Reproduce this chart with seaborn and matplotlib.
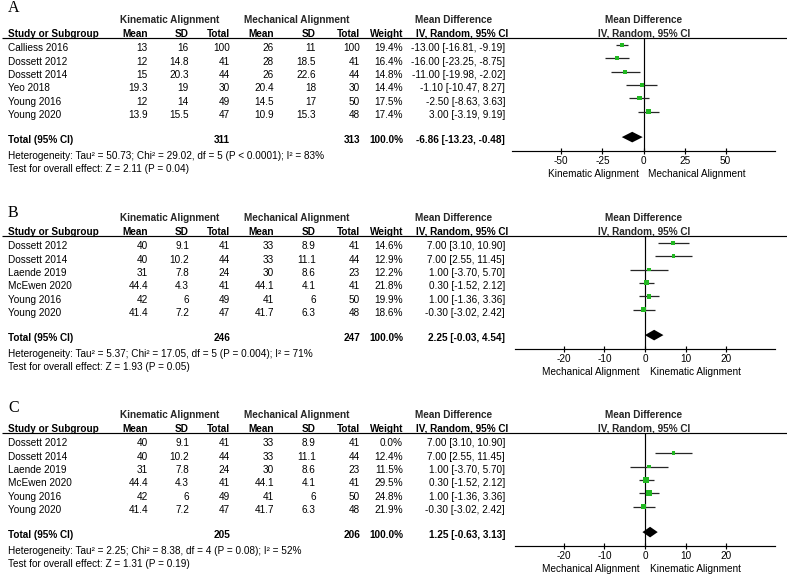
import numpy as np
import pandas as pd
import matplotlib
matplotlib.use("Agg")
import matplotlib.pyplot as plt
import seaborn as sns

# ---------------- data ----------------
# Panel A
studies_a = ["Calliess 2016", "Dossett 2012", "Dossett 2014", "Yeo 2018", "Young 2016", "Young 2020"]
ka_mean_a = [13, 12, 15, 19.3, 12, 13.9]
ka_sd_a = [16, 14.8, 20.3, 19, 14, 15.5]
ka_n_a = [100, 41, 44, 30, 49, 47]
ma_mean_a = [26, 28, 26, 20.4, 14.5, 10.9]
ma_sd_a = [11, 18.5, 22.6, 18, 17, 15.3]
ma_n_a = [100, 41, 44, 30, 50, 48]
weight_a = [19.4, 16.4, 14.8, 14.4, 17.5, 17.4]
md_a = [-13.00, -16.00, -11.00, -1.10, -2.50, 3.00]
lo_a = [-16.81, -23.25, -19.98, -10.47, -8.63, -3.19]
hi_a = [-9.19, -8.75, -2.02, 8.27, 3.63, 9.19]
total_a = [311, 313]
pooled_a = [-6.86, -13.23, -0.48]
het_a = "Heterogeneity: Tau\u00b2 = 50.73; Chi\u00b2 = 29.02, df = 5 (P < 0.0001); I\u00b2 = 83%"
test_a = "Test for overall effect: Z = 2.11 (P = 0.04)"
ticks_a = [-50, -25, 0, 25, 50]
dir_a = ["Kinematic Alignment", "Mechanical Alignment"]

# Panel B
studies_b = ["Dossett 2012", "Dossett 2014", "Laende 2019", "McEwen 2020", "Young 2016", "Young 2020"]
ka_mean_b = [40, 40, 31, 44.4, 42, 41.4]
ka_sd_b = [9.1, 10.2, 7.8, 4.3, 6, 7.2]
ka_n_b = [41, 44, 24, 41, 49, 47]
ma_mean_b = [33, 33, 30, 44.1, 41, 41.7]
ma_sd_b = [8.9, 11.1, 8.6, 4.1, 6, 6.3]
ma_n_b = [41, 44, 23, 41, 50, 48]
weight_b = [14.6, 12.9, 12.2, 21.8, 19.9, 18.6]
md_b = [7.00, 7.00, 1.00, 0.30, 1.00, -0.30]
lo_b = [3.10, 2.55, -3.70, -1.52, -1.36, -3.02]
hi_b = [10.90, 11.45, 5.70, 2.12, 3.36, 2.42]
total_b = [246, 247]
pooled_b = [2.25, -0.03, 4.54]
het_b = "Heterogeneity: Tau\u00b2 = 5.37; Chi\u00b2 = 17.05, df = 5 (P = 0.004); I\u00b2 = 71%"
test_b = "Test for overall effect: Z = 1.93 (P = 0.05)"
ticks_b = [-20, -10, 0, 10, 20]
dir_b = ["Mechanical Alignment", "Kinematic Alignment"]

# Panel C
studies_c = ["Dossett 2012", "Dossett 2014", "Laende 2019", "McEwen 2020", "Young 2016", "Young 2020"]
ka_mean_c = [40, 40, 31, 44.4, 42, 41.4]
ka_sd_c = [9.1, 10.2, 7.8, 4.3, 6, 7.2]
ka_n_c = [41, 44, 24, 41, 49, 47]
ma_mean_c = [33, 33, 30, 44.1, 41, 41.7]
ma_sd_c = [8.9, 11.1, 8.6, 4.1, 6, 6.3]
ma_n_c = [41, 44, 23, 41, 50, 48]
weight_c = [0.0, 12.4, 11.5, 29.5, 24.8, 21.9]
md_c = [7.00, 7.00, 1.00, 0.30, 1.00, -0.30]
lo_c = [3.10, 2.55, -3.70, -1.52, -1.36, -3.02]
hi_c = [10.90, 11.45, 5.70, 2.12, 3.36, 2.42]
total_c = [205, 206]
pooled_c = [1.25, -0.63, 3.13]
het_c = "Heterogeneity: Tau\u00b2 = 2.25; Chi\u00b2 = 8.38, df = 4 (P = 0.08); I\u00b2 = 52%"
test_c = "Test for overall effect: Z = 1.31 (P = 0.19)"
ticks_c = [-20, -10, 0, 10, 20]
dir_c = ["Mechanical Alignment", "Kinematic Alignment"]

panel_letters = ["A", "B", "C"]

# ---------------- style ----------------
sns.set_style("white")
plt.rcParams['font.family'] = ['Liberation Sans', 'DejaVu Sans']
plt.rcParams['axes.unicode_minus'] = False

W, H = 787, 574
fig = plt.figure(figsize=(W / 100, H / 100), dpi=100)
bg = fig.add_axes([0, 0, 1, 1])
bg.set_xlim(0, W)
bg.set_ylim(H, 0)
bg.axis('off')

FS = 7.2
GREEN = '#22b822'
LW = 0.85


def txt(x, y, s, ha='left', bold=False):
    bg.text(x, y, s, ha=ha, va='baseline', fontsize=FS,
            fontweight='bold' if bold else 'normal', color='black')


def fmt(v):
    return f"{v:g}"


panels = [
    dict(studies=studies_a, km=ka_mean_a, ks=ka_sd_a, kn=ka_n_a, mm=ma_mean_a, ms=ma_sd_a, mn=ma_n_a,
         w=weight_a, md=md_a, lo=lo_a, hi=hi_a, tot=total_a, pooled=pooled_a, het=het_a, test=test_a,
         ticks=ticks_a, dirs=dir_a, lim=80, off=0, letter_y=12.3, ax_left=512),
    dict(studies=studies_b, km=ka_mean_b, ks=ka_sd_b, kn=ka_n_b, mm=ma_mean_b, ms=ma_sd_b, mn=ma_n_b,
         w=weight_b, md=md_b, lo=lo_b, hi=hi_b, tot=total_b, pooled=pooled_b, het=het_b, test=test_b,
         ticks=ticks_b, dirs=dir_b, lim=32, off=198, letter_y=216.7, ax_left=515),
    dict(studies=studies_c, km=ka_mean_c, ks=ka_sd_c, kn=ka_n_c, mm=ma_mean_c, ms=ma_sd_c, mn=ma_n_c,
         w=weight_c, md=md_c, lo=lo_c, hi=hi_c, tot=total_c, pooled=pooled_c, het=het_c, test=test_c,
         ticks=ticks_c, dirs=dir_c, lim=32, off=395, letter_y=411.7, ax_left=515),
]

# column right edges (px)
C_KM, C_KS, C_KN = 148, 189, 230
C_MM, C_MS, C_MN = 274, 316, 360
C_W, C_CI = 403, 505
ROW0, DROW = 47.7, 13.33
BASE = 3.6  # center -> baseline
LINE_Y = 37.7
AXIS_Y = 150.7
TOTAL_Y = 139.3
ZERO_X = 644

for letter, p in zip(panel_letters, panels):
    off = p['off']
    # panel letter
    bg.text(8, p['letter_y'], letter, ha='left', va='baseline', fontsize=11.5,
            family=['Liberation Serif', 'DejaVu Serif'], color='black')
    # headers
    y1 = off + 19.5 + BASE
    y2 = off + 33 + BASE
    bg.text(169.5, y1, "Kinematic Alignment", ha='center', va='baseline', fontsize=FS, fontweight='bold')
    bg.text(297, y1, "Mechanical Alignment", ha='center', va='baseline', fontsize=FS, fontweight='bold')
    bg.text(454, y1, "Mean Difference", ha='center', va='baseline', fontsize=FS, fontweight='bold')
    bg.text(ZERO_X, y1, "Mean Difference", ha='center', va='baseline', fontsize=FS, fontweight='bold')
    txt(8, y2, "Study or Subgroup", bold=True)
    txt(C_KM, y2, "Mean", ha='right', bold=True)
    txt(C_KS, y2, "SD", ha='right', bold=True)
    txt(C_KN, y2, "Total", ha='right', bold=True)
    txt(C_MM, y2, "Mean", ha='right', bold=True)
    txt(C_MS, y2, "SD", ha='right', bold=True)
    txt(C_MN, y2, "Total", ha='right', bold=True)
    txt(C_W, y2, "Weight", ha='right', bold=True)
    txt(416, y2, "IV, Random, 95% CI", bold=True)
    bg.text(ZERO_X, y2, "IV, Random, 95% CI", ha='center', va='baseline', fontsize=FS, fontweight='bold')
    bg.plot([2, W], [off + LINE_Y] * 2, color='black', lw=LW, solid_capstyle='butt')

    # study rows
    n = len(p['studies'])
    row_c = np.array([ROW0 + DROW * i for i in range(n)])
    for i in range(n):
        yb = off + row_c[i] + BASE
        txt(8, yb, p['studies'][i])
        txt(C_KM, yb, fmt(p['km'][i]), ha='right')
        txt(C_KS, yb, fmt(p['ks'][i]), ha='right')
        txt(C_KN, yb, fmt(p['kn'][i]), ha='right')
        txt(C_MM, yb, fmt(p['mm'][i]), ha='right')
        txt(C_MS, yb, fmt(p['ms'][i]), ha='right')
        txt(C_MN, yb, fmt(p['mn'][i]), ha='right')
        txt(C_W, yb, f"{p['w'][i]:.1f}%", ha='right')
        txt(C_CI, yb, f"{p['md'][i]:.2f} [{p['lo'][i]:.2f}, {p['hi'][i]:.2f}]", ha='right')

    # total row
    yt = off + TOTAL_Y + BASE
    txt(8, yt, "Total (95% CI)", bold=True)
    txt(C_KN, yt, str(p['tot'][0]), ha='right', bold=True)
    txt(C_MN, yt, str(p['tot'][1]), ha='right', bold=True)
    txt(C_W, yt, "100.0%", ha='right', bold=True)
    pm, pl, ph = p['pooled']
    txt(C_CI, yt, f"{pm:.2f} [{pl:.2f}, {ph:.2f}]", ha='right', bold=True)
    txt(8, off + 155 + BASE, p['het'])
    txt(8, off + 168.3 + BASE, p['test'])

    # forest axes
    left, right = p['ax_left'], 775
    top_px, bot_px = off + LINE_Y, off + AXIS_Y
    ax = fig.add_axes([left / W, 1 - bot_px / H, (right - left) / W, (bot_px - top_px) / H])
    ax.set_facecolor('none')

    df = pd.DataFrame({'md': p['md'], 'lo': p['lo'], 'hi': p['hi'],
                       'w': p['w'], 'y': row_c - 2.8})
    df = df[df['w'] > 0]
    side_px = 1.8 + 0.15 * df['w'].values
    area = (side_px * 0.72) ** 2
    ax.hlines(df['y'], df['lo'], df['hi'], color='#262626', lw=0.9, zorder=2)
    sns.scatterplot(data=df, x='md', y='y', marker='s', s=area, color=GREEN,
                    edgecolor='none', linewidth=0, legend=False, ax=ax, zorder=3)
    ty = TOTAL_Y - 2.2
    ax.fill([pl, pm, ph, pm], [ty, ty - 5.3, ty, ty + 5.3], color='black', lw=0, zorder=3)
    ax.axvline(0, color='black', lw=LW, zorder=1)

    ax.set_xlim(-p['lim'], p['lim'])
    ax.set_ylim(AXIS_Y, LINE_Y)
    ax.set_xlabel('')
    ax.set_ylabel('')
    ax.set_yticks([])
    ax.set_xticks(p['ticks'])
    ax.set_xticklabels([str(t) for t in p['ticks']])
    for s in ['top', 'left', 'right']:
        ax.spines[s].set_visible(False)
    ax.spines['bottom'].set_color('black')
    ax.spines['bottom'].set_linewidth(LW)
    ax.tick_params(axis='x', direction='inout', length=5, width=LW, pad=1,
                   labelsize=FS, colors='black', bottom=True)
    ax.annotate(p['dirs'][0], xy=(0, 0), xycoords=('data', 'axes fraction'),
                xytext=(-5, -25.9), textcoords='offset pixels', ha='right', va='baseline',
                fontsize=FS, color='black')
    ax.annotate(p['dirs'][1], xy=(0, 0), xycoords=('data', 'axes fraction'),
                xytext=(5, -25.9), textcoords='offset pixels', ha='left', va='baseline',
                fontsize=FS, color='black')

fig.savefig("out.png", dpi=100, facecolor='white')
